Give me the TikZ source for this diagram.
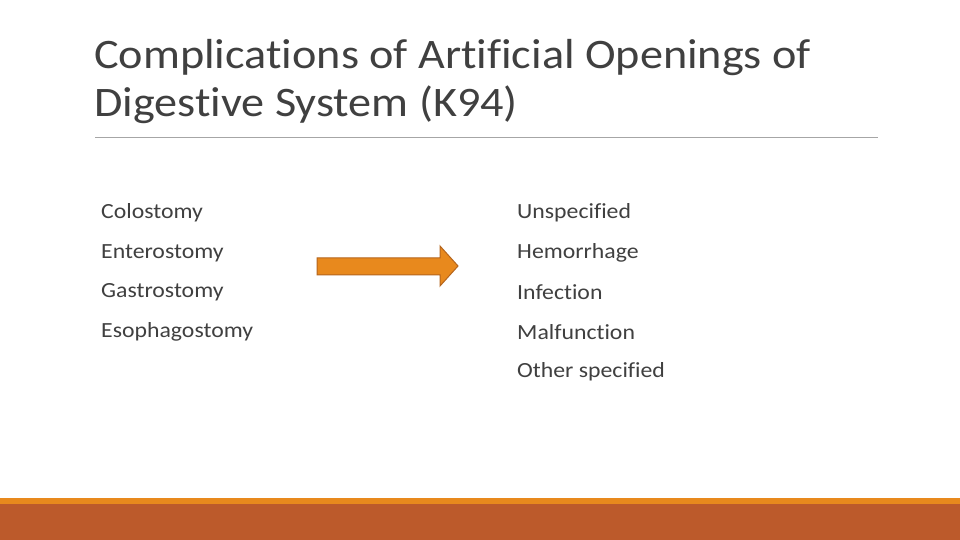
\documentclass[tikz,border=0pt]{standalone}
\usepackage{fontspec}
\setmainfont{Carlito}[Ligatures=NoCommon]
\newfontfamily\widefont{Carlito}[FakeStretch=1.1,Ligatures=NoCommon]
\definecolor{orng}{HTML}{E8891D}
\definecolor{orngdark}{HTML}{B5651D}
\definecolor{rust}{HTML}{BC5A2B}
\definecolor{txt}{HTML}{404040}
\begin{document}
\begin{tikzpicture}[x=1pt,y=1pt,
  item/.style={anchor=west,inner sep=0pt,font=\widefont\fontsize{21.6}{24}\selectfont,text=txt},
  ttl/.style={anchor=north west,inner sep=0pt,align=left,font=\widefont\fontsize{42}{48}\selectfont,text=txt}]
\useasboundingbox (0,0) rectangle (960,540);
\fill[white] (0,0) rectangle (960,540);
\node[ttl] (title) at (94,501) {Complications of Artificial Openings of\\Digestive System (K94)};
\draw[gray!70,line width=0.8pt] (95,403) -- (878,403);
\node[item] (l1) at (101,327) {Colostomy};
\node[item] (l2) at (101,287) {Enterostomy};
\node[item] (l3) at (101,248) {Gastrostomy};
\node[item] (l4) at (101,208) {Esophagostomy};
\node[item] (r1) at (517,327) {Unspecified};
\node[item] (r2) at (517,287) {Hemorrhage};
\node[item] (r3) at (517,248) {Infection};
\node[item] (r4) at (517,208) {Malfunction};
\node[item] (r5) at (517,168) {Other specified};
\draw[fill=orng,draw=orngdark,line width=1pt,line join=miter]
  (317,282) -- (440,282) -- (440,294) -- (458,274) -- (440,254) -- (440,265) -- (317,265) -- cycle;
\fill[orng] (0,36) rectangle (960,42);
\fill[rust] (0,0) rectangle (960,36);
\end{tikzpicture}
\end{document}
